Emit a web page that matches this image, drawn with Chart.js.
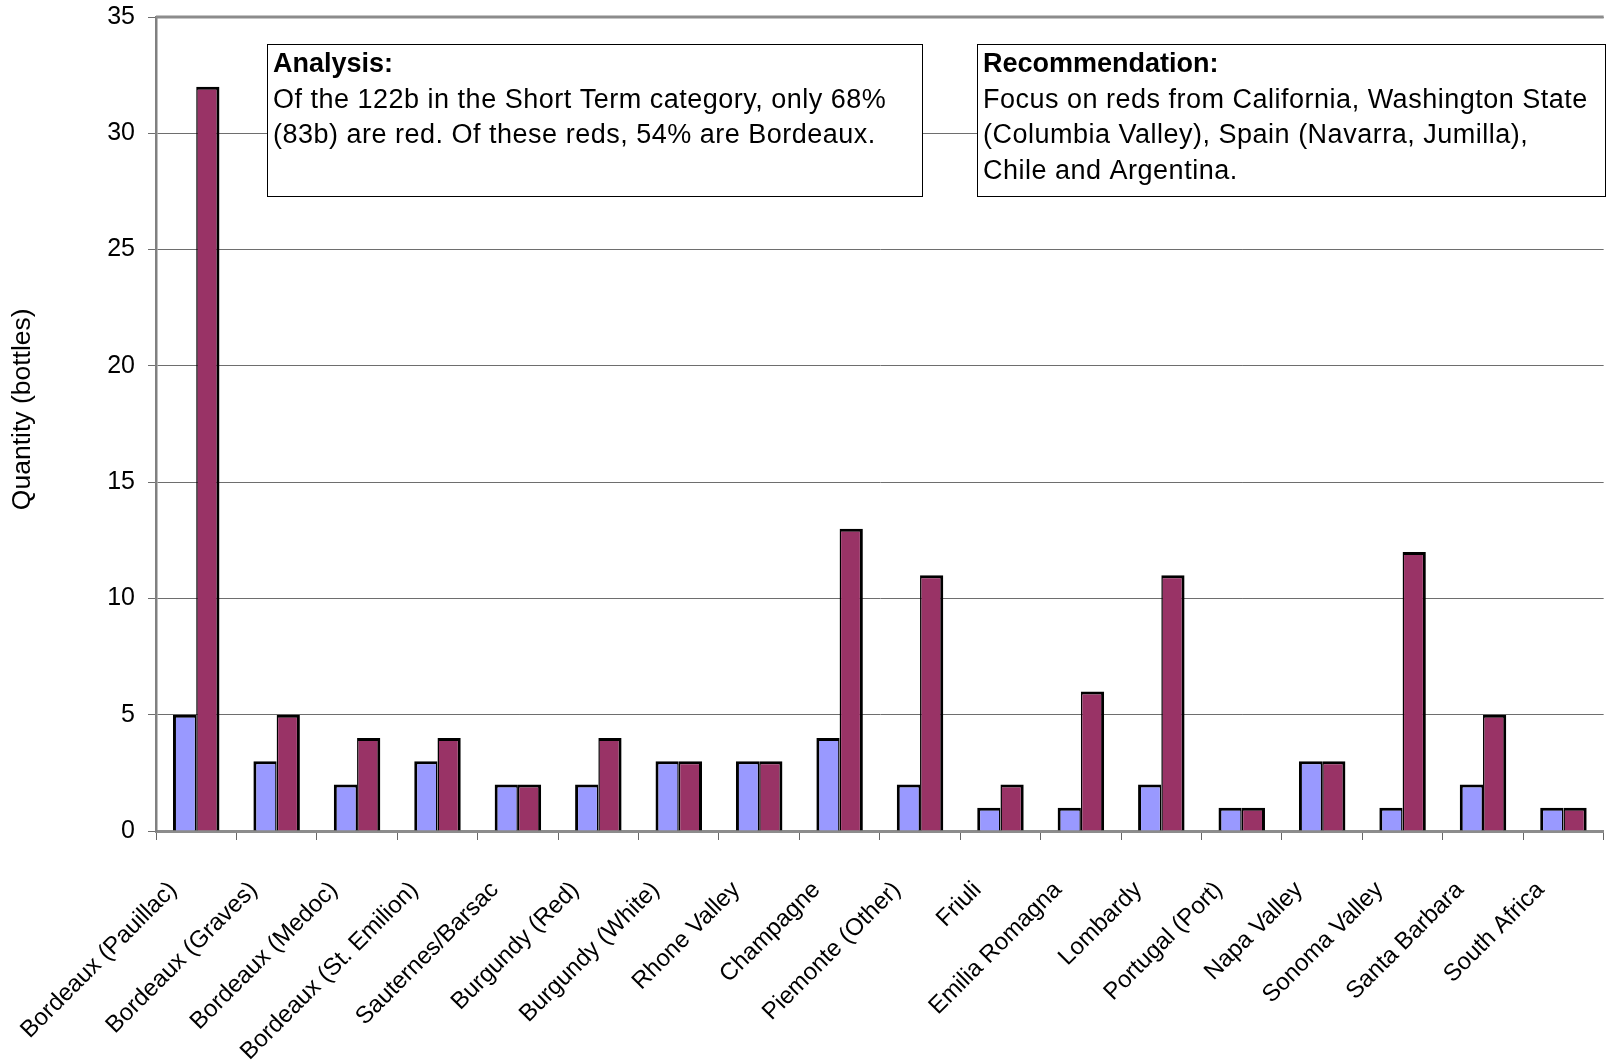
<!DOCTYPE html>
<html>
<head>
<meta charset="utf-8">
<script src="https://cdn.jsdelivr.net/npm/chart.js@4.4.1/dist/chart.umd.min.js"></script>
<style>
  html, body { margin: 0; padding: 0; overflow: hidden; background: #fff; }
  #wrap { width: 1620px; height: 1064px; }
</style>
</head>
<body>
<div id="wrap"><canvas id="cellarChart"></canvas></div>
<script>
// Chart data
const regions = [
  "Bordeaux (Pauillac)", "Bordeaux (Graves)", "Bordeaux (Medoc)",
  "Bordeaux (St. Emilion)", "Sauternes/Barsac", "Burgundy (Red)",
  "Burgundy (White)", "Rhone Valley", "Champagne", "Piemonte (Other)",
  "Friuli", "Emilia Romagna", "Lombardy", "Portugal (Port)",
  "Napa Valley", "Sonoma Valley", "Santa Barbara", "South Africa"
];
const blueValues = [5, 3, 2, 3, 2, 2, 3, 3, 4, 2, 1, 1, 2, 1, 3, 1, 2, 1];
const redValues = [32, 5, 4, 4, 2, 4, 3, 3, 13, 11, 2, 6, 11, 1, 3, 12, 5, 1];
const yMin = 0;
const yMax = 35;
const yStep = 5;

const analysisTitle = "Analysis:";
const analysisLines = [
  "Of the 122b in the Short Term category, only 68%",
  "(83b) are red. Of these reds, 54% are Bordeaux."
];
const recommendationTitle = "Recommendation:";
const recommendationLines = [
  "Focus on reds from California, Washington State",
  "(Columbia Valley), Spain (Navarra, Jumilla),",
  "Chile and Argentina."
];

const FONT = "'Liberation Sans', Arial, sans-serif";

// Text boxes and plot frame
const notesPlugin = {
  id: "notes",
  afterDatasetsDraw(chart) {
    const ctx = chart.ctx;
    const area = chart.chartArea;

    // top border of the plot area
    ctx.save();
    ctx.strokeStyle = "#8c8c8c";
    ctx.lineWidth = 3;
    ctx.beginPath();
    ctx.moveTo(area.left, area.top);
    ctx.lineTo(area.right, area.top);
    ctx.stroke();
    ctx.restore();

    const boxes = [
      { x: 267.5, y: 44.5, w: 655, h: 152, title: analysisTitle, lines: analysisLines },
      { x: 977.5, y: 44.5, w: 628, h: 152, title: recommendationTitle, lines: recommendationLines }
    ];
    boxes.forEach((b) => {
      ctx.save();
      ctx.fillStyle = "#fff";
      ctx.fillRect(b.x, b.y, b.w, b.h);
      ctx.strokeStyle = "#000";
      ctx.lineWidth = 1;
      ctx.strokeRect(b.x, b.y, b.w, b.h);
      ctx.fillStyle = "#000";
      ctx.textBaseline = "alphabetic";
      ctx.textAlign = "left";
      ctx.font = "bold 27px " + FONT;
      ctx.fillText(b.title, b.x + 5.5, 71.5);
      ctx.font = "27px " + FONT;
      if ("letterSpacing" in ctx) ctx.letterSpacing = "0.5px";
      b.lines.forEach((line, i) => {
        ctx.fillText(line, b.x + 5.5, 107.5 + i * 35.5);
      });
      ctx.restore();
    });
  }
};

const ctx = document.getElementById("cellarChart").getContext("2d");
new Chart(ctx, {
  type: "bar",
  data: {
    labels: regions,
    datasets: [
      {
        label: "Series 1",
        data: blueValues,
        backgroundColor: "#9999ff",
        borderColor: "#000",
        borderWidth: { top: 3, left: 3, right: 1.5, bottom: 0 },
        borderSkipped: false
      },
      {
        label: "Series 2",
        data: redValues,
        backgroundColor: "#993366",
        borderColor: "#000",
        borderWidth: { top: 3, left: 1.5, right: 3, bottom: 0 },
        borderSkipped: false
      }
    ]
  },
  options: {
    responsive: true,
    maintainAspectRatio: false,
    animation: false,
    layout: { padding: { left: 0, right: 7, top: 17, bottom: 0 } },
    categoryPercentage: 0.578,
    barPercentage: 1.0,
    plugins: {
      legend: { display: false },
      tooltip: { enabled: false }
    },
    scales: {
      x: {
        grid: {
          display: true,
          offset: true,
          drawOnChartArea: false,
          drawTicks: true,
          tickLength: 9,
          color: "#666"
        },
        border: { color: "#8c8c8c", width: 3 },
        ticks: {
          autoSkip: false,
          maxRotation: 45,
          minRotation: 45,
          padding: 36,
          labelOffset: -23,
          color: "#000",
          font: { family: FONT, size: 24 }
        },
        afterFit: (scale) => { scale.height = 233; }
      },
      y: {
        min: yMin,
        max: yMax,
        grid: { color: "#6e6e6e", tickLength: 8 },
        border: { color: "#808080", width: 2.5 },
        ticks: {
          stepSize: yStep,
          padding: 13,
          color: "#000",
          font: { family: FONT, size: 25 }
        },
        title: {
          display: true,
          text: "    Quantity (bottles)",
          color: "#000",
          font: { family: FONT, size: 26.5 },
          padding: { top: 7, bottom: 0 }
        },
        afterFit: (scale) => {
          scale.width = 156;
          scale.paddingTop = 0;
          scale.paddingBottom = 0;
        }
      }
    }
  },
  plugins: [notesPlugin]
});
</script>
</body>
</html>
